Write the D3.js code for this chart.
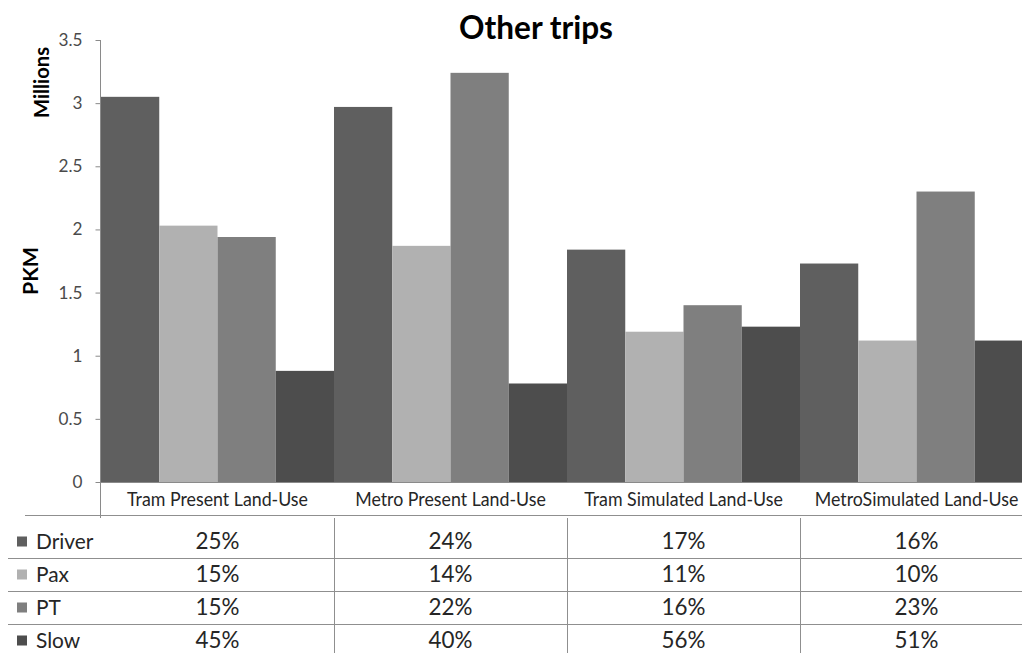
<!DOCTYPE html>
<html>
<head>
<meta charset="utf-8">
<script src="https://cdn.jsdelivr.net/npm/d3@7/dist/d3.min.js"></script>
<style>
  html, body { margin: 0; padding: 0; background: #fff; overflow: hidden; }
  svg { display: block; }
</style>
</head>
<body>
<script>
// ---- data ----
const categories = ["Tram Present Land-Use", "Metro Present Land-Use", "Tram Simulated Land-Use", "MetroSimulated Land-Use"];
const seriesNames = ["Driver", "Pax", "PT", "Slow"];
const driverValues = [3.05, 2.97, 1.84, 1.73];
const paxValues    = [2.03, 1.87, 1.19, 1.12];
const ptValues     = [1.94, 3.24, 1.40, 2.30];
const slowValues   = [0.88, 0.78, 1.23, 1.12];
const driverShare = ["25%", "24%", "17%", "16%"];
const paxShare    = ["15%", "14%", "11%", "10%"];
const ptShare     = ["15%", "22%", "16%", "23%"];
const slowShare   = ["45%", "40%", "56%", "51%"];
const yTicks = [0, 0.5, 1, 1.5, 2, 2.5, 3, 3.5];
const yTickLabels = ["0", "0.5", "1", "1.5", "2", "2.5", "3", "3.5"];

const values = [driverValues, paxValues, ptValues, slowValues];
const shares = [driverShare, paxShare, ptShare, slowShare];
const colors = ["#5f5f5f", "#b1b1b1", "#7f7f7f", "#4d4d4d"];
const FONT = "Lato, 'Open Sans', sans-serif";

const W = 1022, H = 653;
const svg = d3.select("body").append("svg").attr("width", W).attr("height", H);

// fit a text element's font-size to a target width
function fit(sel, target) {
  const w = sel.node().getComputedTextLength();
  const fs = parseFloat(sel.attr("font-size"));
  const nfs = fs * target / w;
  sel.attr("font-size", nfs);
  return nfs;
}

const x = d3.scaleBand().domain(categories).range([101, 1033]).padding(0);
const xs = d3.scaleBand().domain(seriesNames).range([0, x.bandwidth()]).padding(0);
const y = d3.scaleLinear().domain([0, 3.5]).range([482, 40]);

// title
const title = svg.append("text").text("Other trips")
  .attr("x", 536).attr("y", 39).attr("text-anchor", "middle")
  .attr("font-family", FONT).attr("font-weight", "bold").attr("font-size", 30).attr("fill", "#000");
fit(title, 154);

// axis titles
const mil = svg.append("text").text("Millions")
  .attr("transform", "translate(49,82.5) rotate(-90)").attr("text-anchor", "middle")
  .attr("font-family", FONT).attr("font-weight", "bold").attr("font-size", 18).attr("fill", "#000");
fit(mil, 71);
const pkm = svg.append("text").text("PKM")
  .attr("transform", "translate(37.5,271) rotate(-90)").attr("text-anchor", "middle")
  .attr("font-family", FONT).attr("font-weight", "bold").attr("font-size", 18).attr("fill", "#000");
fit(pkm, 48);

// bars
const groups = svg.append("g").selectAll("g").data(categories).join("g")
  .attr("transform", d => `translate(${x(d)},0)`);
groups.selectAll("rect").data((c, ci) => seriesNames.map((s, si) => ({ s, si, v: values[si][ci] })))
  .join("rect")
  .attr("x", d => xs(d.s)).attr("width", xs.bandwidth())
  .attr("y", d => y(d.v)).attr("height", d => y(0) - y(d.v))
  .attr("fill", d => colors[d.si]);

// x baseline
svg.append("line").attr("x1", 100).attr("x2", W).attr("y1", y(0) + 0.5).attr("y2", y(0) + 0.5)
  .attr("stroke", "#8a8a8a");

// y axis
const yAxis = d3.axisLeft(y).tickValues(yTicks).tickFormat((d, i) => yTickLabels[i])
  .tickSize(5).tickPadding(13);
const ya = svg.append("g").attr("transform", "translate(100.5,0)").call(yAxis);
ya.select(".domain").remove();
ya.selectAll(".tick line").attr("stroke", "#8a8a8a");
ya.selectAll(".tick text").attr("fill", "#4a4a4a").attr("font-family", FONT).attr("font-size", 18);
const t35 = ya.selectAll(".tick text").filter((d, i) => i === yTicks.length - 1);
const tfs = fit(t35, 24);
ya.selectAll(".tick text").attr("font-size", tfs);
svg.append("line").attr("x1", 100.5).attr("x2", 100.5).attr("y1", 40).attr("y2", 518)
  .attr("stroke", "#8a8a8a");

// category labels (font size by height, horizontally scaled to match width)
const catText = svg.append("g").selectAll("text").data(categories).join("text")
  .text(d => d)
  .attr("text-anchor", "middle")
  .attr("font-family", FONT).attr("font-size", 19).attr("fill", "#262626");
const natW = catText.filter((d, i) => i === 0).node().getComputedTextLength();
const kx = 181 / natW;
catText.attr("transform", d => `translate(${x(d) + x.bandwidth() / 2},506) scale(${kx},1)`);

// table grid
const lineColor = "#8f8f8f";
svg.append("line").attr("x1", 25).attr("x2", W).attr("y1", 515.5).attr("y2", 515.5).attr("stroke", lineColor);
const rowTop = 525, rowH = 33;
[1, 2, 3].forEach(i => {
  svg.append("line").attr("x1", 8).attr("x2", W)
    .attr("y1", rowTop + i * rowH + 0.5).attr("y2", rowTop + i * rowH + 0.5).attr("stroke", lineColor);
});
categories.slice(1).forEach(c => {
  svg.append("line").attr("x1", x(c) + 0.5).attr("x2", x(c) + 0.5).attr("y1", 518).attr("y2", H)
    .attr("stroke", lineColor);
});

// table rows
const rows = svg.append("g").selectAll("g").data(seriesNames).join("g")
  .attr("transform", (d, i) => `translate(0,${rowTop + i * rowH + rowH / 2})`);
rows.append("rect").attr("x", 17).attr("y", -5).attr("width", 10).attr("height", 10)
  .attr("fill", (d, i) => colors[i]);
const legText = rows.append("text").text(d => d).attr("x", 36).attr("y", 7.5)
  .attr("font-family", FONT).attr("font-size", 20).attr("fill", "#262626");
const lfs = fit(legText.filter((d, i) => i === 1), 33);
legText.attr("font-size", lfs);

const cellText = rows.selectAll("text.cell").data((s, si) => categories.map((c, ci) => ({ c, t: shares[si][ci] })))
  .join("text").attr("class", "cell")
  .text(d => d.t)
  .attr("x", d => x(d.c) + x.bandwidth() / 2).attr("y", 7.5).attr("text-anchor", "middle")
  .attr("font-family", FONT).attr("font-size", 20).attr("fill", "#262626");
const pfs = fit(cellText.filter((d, i) => i === 0), 44);
svg.selectAll("text.cell").attr("font-size", pfs);
</script>
</body>
</html>
